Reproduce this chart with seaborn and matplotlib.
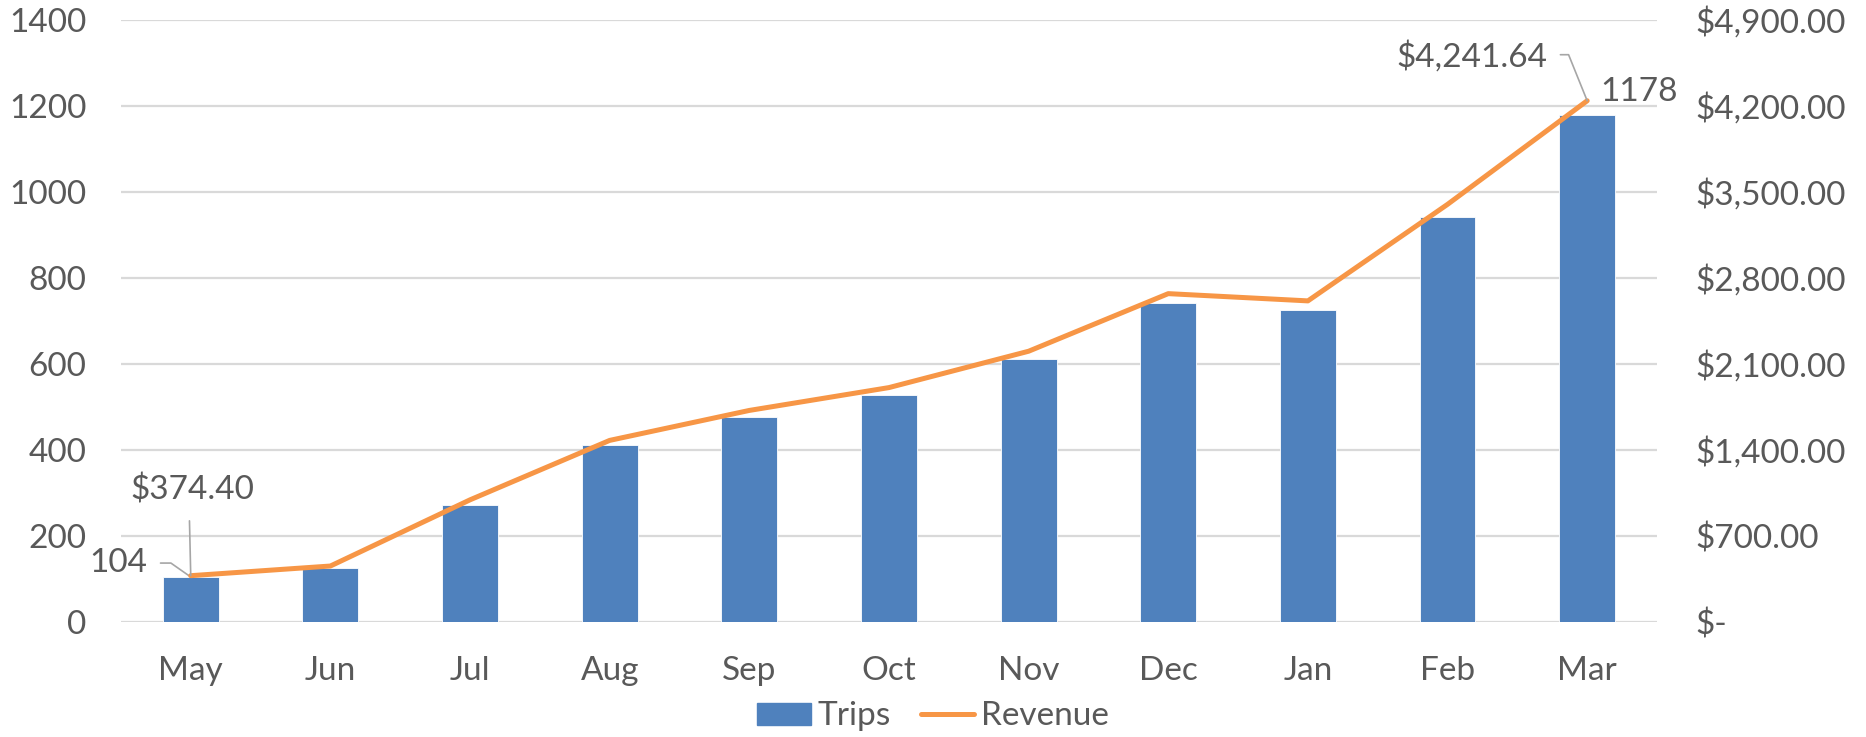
import matplotlib
matplotlib.use('Agg')
import matplotlib.pyplot as plt
import pandas as pd
import seaborn as sns
from matplotlib.patches import Patch
from matplotlib.lines import Line2D

# Chart data
months = ['May', 'Jun', 'Jul', 'Aug', 'Sep', 'Oct', 'Nov', 'Dec', 'Jan', 'Feb', 'Mar']
trips = [104, 125, 271, 412, 476, 528, 611, 741, 724, 941, 1178]
revenue = [374.40, 453, 992, 1476, 1720, 1906, 2202, 2671, 2612, 3398, 4241.64]

trip_ticks = list(range(0, 1401, 200))
revenue_ticks = list(range(0, 4901, 700))

bar_color = '#4F81BD'
line_color = '#F79646'
text_color = '#595959'
grid_color = '#D9D9D9'
leader_color = '#A6A6A6'

df = pd.DataFrame({'Month': months, 'Trips': trips, 'Revenue': revenue})

sns.set_style('white')
plt.rcParams['font.family'] = ['Lato', 'DejaVu Sans']

fig, ax = plt.subplots(figsize=(18.66, 7.37), dpi=100)
fig.subplots_adjust(left=0.0648, right=0.888, top=0.973, bottom=0.1565)

# Bars for trips
sns.barplot(data=df, x='Month', y='Trips', color=bar_color, width=0.4,
            saturation=1, edgecolor='white', linewidth=0.6, ax=ax, zorder=2)
ax.set_ylim(0, 1400)
ax.set_yticks(trip_ticks)
ax.yaxis.grid(True, color=grid_color, linewidth=1.6, zorder=0)
ax.set_axisbelow(True)
ax.set_xlim(-0.5, len(months) - 0.5)

# Line for revenue on the secondary axis
ax2 = ax.twinx()
sns.lineplot(data=df, x='Month', y='Revenue', color=line_color, linewidth=3.6,
             sort=False, ax=ax2, zorder=3)
ax2.set_ylim(0, 4900)
ax2.set_yticks(revenue_ticks)
ax2.set_yticklabels(['$-' if v == 0 else '${:,.2f}'.format(v) for v in revenue_ticks])
ax2.set_xlim(-0.5, len(months) - 0.5)

fs = 24
for a in (ax, ax2):
    a.set_xlabel('')
    a.set_ylabel('')
    for s in a.spines.values():
        s.set_visible(False)
    a.tick_params(axis='both', length=0, labelsize=fs, labelcolor=text_color)
ax.tick_params(axis='x', pad=25)
ax.tick_params(axis='y', pad=25)
ax2.tick_params(axis='y', pad=28)

# Data labels with leader lines (first and last month)
def leader(relpos, shrink, conn='arc3'):
    return dict(arrowstyle='-', color=leader_color, linewidth=1.2, relpos=relpos,
                shrinkA=shrink, shrinkB=0, connectionstyle=conn)

ax2.annotate('${:,.2f}'.format(revenue[0]), xy=(0, revenue[0]), xytext=(1.5, 62),
             textcoords='offset points', ha='center', va='center', fontsize=fs,
             color=text_color, arrowprops=leader((0.47, 0), 9))
ax.annotate(str(trips[0]), xy=(0, trips[0]), xytext=(-52, 10),
            textcoords='offset points', ha='center', va='center', fontsize=fs,
            color=text_color,
            arrowprops=leader((1, 0.5), 7, 'angle,angleA=0,angleB=145,rad=0'))
last = len(months) - 1
ax2.annotate('${:,.2f}'.format(revenue[-1]), xy=(last, revenue[-1]), xytext=(-83, 32),
             textcoords='offset points', ha='center', va='center', fontsize=fs,
             color=text_color,
             arrowprops=leader((1, 0.55), 7, 'angle,angleA=0,angleB=112,rad=0'))
ax.annotate(str(trips[-1]), xy=(last, trips[-1]), xytext=(37, 17),
            textcoords='offset points', ha='center', va='center', fontsize=fs,
            color=text_color)

# Legend along the bottom
handles = [Patch(facecolor=bar_color, edgecolor=bar_color),
           Line2D([0], [0], color=line_color, linewidth=3.6, solid_capstyle='round')]
fig.legend(handles, ['Trips', 'Revenue'], loc='center', bbox_to_anchor=(0.5, 0.028),
           ncol=2, frameon=False, fontsize=fs, labelcolor=text_color,
           handlelength=1.6, handleheight=0.65, handletextpad=0.2, columnspacing=0.9)

fig.savefig('out.png', dpi=100)
